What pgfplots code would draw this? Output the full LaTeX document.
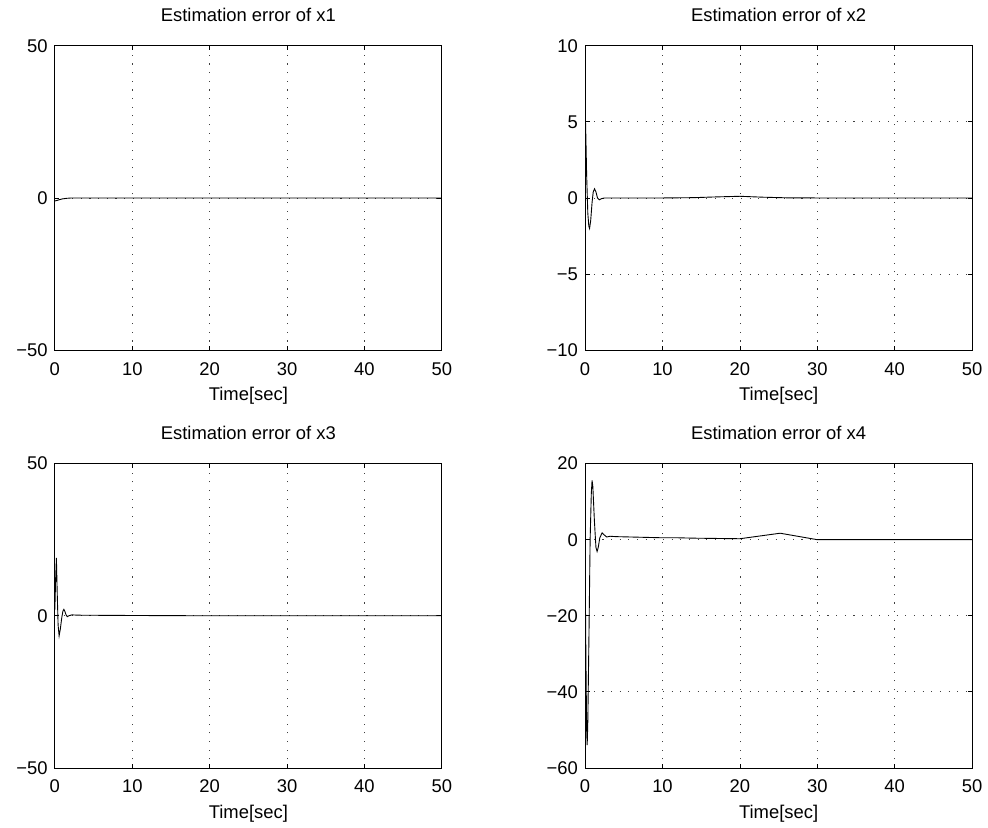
\documentclass[border=0pt]{standalone}
\usepackage{pgfplots}
\pgfplotsset{compat=1.18}
\usepackage{fontspec}
\setmainfont{Liberation Sans}
\begin{document}
\fontsize{18.5}{22}\selectfont
\pgfplotsset{
  myax/.style={
    scale only axis, width=389pt, height=306pt,
    anchor=north west,
    xmin=0, xmax=50, xtick={0,10,20,30,40,50},
    xticklabels={0,10,20,30,40,50},
    tick align=inside, major tick length=4.5pt,
    xtick pos=both, ytick pos=both,
    axis line style={line width=0.9pt},
    every tick/.style={black, line width=0.8pt},
    grid=major,
    major grid style={black!75, line width=0.8pt, dash pattern=on 1.1pt off 7.6pt},
    tick label style={font=\fontsize{18.5}{22}\selectfont},
    xticklabel style={inner sep=0pt, anchor=north, yshift=-12pt},
    yticklabel style={inner sep=0pt, anchor=east, xshift=-7pt},
    title style={at={(0.5,1)}, anchor=base, yshift=18pt, inner sep=0pt, font=\fontsize{18.5}{22}\selectfont},
    xlabel style={at={(axis description cs:0.5,0)}, anchor=north, inner sep=0pt, yshift=-37pt, font=\fontsize{18.5}{22}\selectfont},
    xlabel={Time[sec]},
  },
  myline/.style={black, line width=0.9pt, mark=none},
}
\begin{tikzpicture}
\path[use as bounding box] (0pt,0pt) rectangle (988pt,832pt);

\begin{axis}[myax, at={(50pt,786pt)}, ymin=-50, ymax=50, ytick={-50,0,50},
  yticklabels={−50,0,50}, title={Estimation error of x1}]
\addplot[myline] coordinates {(0,-1) (0.3,-0.8) (0.6,-0.55) (1,-0.3) (1.5,-0.12) (2,-0.03) (3,0) (10,0) (20,0) (30,0) (40,0) (50,0)};
\end{axis}

\begin{axis}[myax, at={(583pt,786pt)}, ymin=-10, ymax=10, ytick={-10,-5,0,5,10},
  yticklabels={−10,−5,0,5,10}, title={Estimation error of x2}]
\addplot[myline] coordinates {(0,6.2) (0.1,4) (0.2,1.5) (0.35,-1) (0.48,-1.85) (0.58,-2) (0.72,-1.5) (0.9,-0.3) (1.05,0.4) (1.22,0.6) (1.4,0.4) (1.6,0.0) (1.82,-0.12) (2.1,-0.05) (2.5,0) (10,0) (14,0.02) (17,0.07) (20,0.11) (23,0.05) (26,0.01) (30,0) (50,0)};
\end{axis}

\begin{axis}[myax, at={(50pt,366pt)}, ymin=-50, ymax=50, ytick={-50,0,50},
  yticklabels={−50,0,50}, title={Estimation error of x3}]
\addplot[myline] coordinates {(0,2) (0.1,12) (0.2,19) (0.3,8) (0.42,-3) (0.55,-6.6) (0.7,-4.5) (0.9,-0.5) (1.05,1.6) (1.16,2.1) (1.3,1.4) (1.45,0.3) (1.6,-0.3) (1.8,0) (2.2,0.3) (3,0.2) (10,0.1) (20,0) (30,0) (50,0)};
\end{axis}

\begin{axis}[myax, at={(583pt,366pt)}, ymin=-60, ymax=20, ytick={-60,-40,-20,0,20},
  yticklabels={−60,−40,−20,0,20}, title={Estimation error of x4}]
\addplot[myline] coordinates {(0,-5) (0.1,-30) (0.2,-50) (0.27,-54) (0.35,-48) (0.5,-25) (0.65,0) (0.8,12) (0.9,15.6) (1.0,14) (1.2,5) (1.4,-2) (1.55,-3.1) (1.7,-2) (1.9,0.5) (2.2,1.8) (2.5,1.2) (2.8,0.7) (3.2,0.9) (4,0.8) (6,0.7) (8,0.6) (10,0.5) (12,0.5) (14,0.4) (16,0.35) (18,0.3) (20,0.25) (25.2,1.7) (30,0) (40,0) (50,0)};
\end{axis}
\end{tikzpicture}
\end{document}
